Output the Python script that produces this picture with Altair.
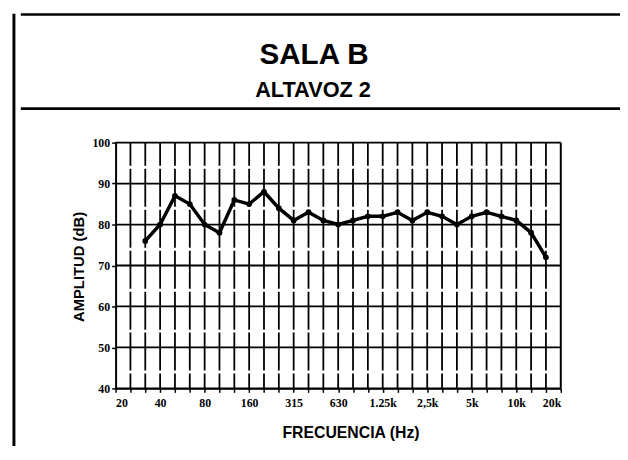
import altair as alt
import pandas as pd

# Third-octave bands from 20 Hz to 20 kHz (position on the x axis = index)
bandas = ["20", "25", "31.5", "40", "50", "63", "80", "100", "125", "160", "200",
          "250", "315", "400", "500", "630", "800", "1k", "1.25k", "1.6k", "2k",
          "2.5k", "3.15k", "4k", "5k", "6.3k", "8k", "10k", "12.5k", "16k", "20k"]

# Measured bands and amplitude (dB)
frecuencias = ["31.5", "40", "50", "63", "80", "100", "125", "160", "200", "250",
               "315", "400", "500", "630", "800", "1k", "1.25k", "1.6k", "2k",
               "2.5k", "3.15k", "4k", "5k", "6.3k", "8k", "10k", "12.5k", "16k"]
amplitud = [76, 80, 87, 85, 80, 78, 86, 85, 88, 84,
            81, 83, 81, 80, 81, 82, 82, 83, 81,
            83, 82, 80, 82, 83, 82, 81, 78, 72]

etiquetas_x = ["20", "40", "80", "160", "315", "630", "1.25k", "2,5k", "5k", "10k", "20k"]
valores_y = [40, 50, 60, 70, 80, 90, 100]

W, H = 451, 249

df = pd.DataFrame({
    "pos": [bandas.index(f) for f in frecuencias],
    "banda": frecuencias,
    "amp": amplitud,
})
grid_v = pd.DataFrame({"pos": list(range(len(bandas)))})
grid_v_inner = grid_v[(grid_v.pos > 0) & (grid_v.pos < len(bandas) - 1)]
grid_h = pd.DataFrame({"y": valores_y})
one = pd.DataFrame({"a": [0]})

lab_arr = "[" + ",".join("'%s'" % s for s in etiquetas_x) + "]"

xscale = alt.Scale(domain=[0, len(bandas) - 1], nice=False, zero=False)
yscale = alt.Scale(domain=[40, 100], nice=False, zero=False)

xaxis = alt.Axis(
    values=list(range(len(bandas))),
    labelExpr=f"datum.value % 3 == 0 ? {lab_arr}[datum.value / 3] : ''",
    title="FRECUENCIA (Hz)",
    grid=False, tickSize=4, tickWidth=1.5, tickColor="black",
    labelFont="Liberation Serif", labelFontWeight="bold", labelFontSize=12,
    labelColor="black", labelPadding=5, labelAngle=0,
    titleFont="Liberation Sans", titleFontWeight="bold", titleFontSize=16,
    titleColor="black", titleX=238, titleY=44.5, titleAlign="center",
    titleBaseline="middle",
    domainColor="black", domainWidth=2,
)
yaxis = alt.Axis(
    values=valores_y,
    title="AMPLITUD (dB)",
    grid=False, tickSize=4, tickWidth=1.5, tickColor="black",
    labelFont="Liberation Serif", labelFontWeight="bold", labelFontSize=12,
    labelColor="black", labelPadding=2,
    titleFont="Liberation Sans", titleFontWeight="bold", titleFontSize=15,
    titleColor="black", titleX=-38, titleY=125.5, titleAlign="center",
    titleBaseline="middle", titleAngle=270,
    domainColor="black", domainWidth=2,
)

vgrid = alt.Chart(grid_v_inner).mark_rule(
    color="black", strokeWidth=1.8, strokeDash=[38.5, 3], strokeDashOffset=15
).encode(x=alt.X("pos:Q", scale=xscale, axis=xaxis))

hgrid = alt.Chart(grid_h).mark_rule(color="black", strokeWidth=1.8).encode(
    y=alt.Y("y:Q", scale=yscale, axis=yaxis)
)

border_r = alt.Chart(grid_v[grid_v.pos == len(bandas) - 1]).mark_rule(
    color="black", strokeWidth=2).encode(x=alt.X("pos:Q", scale=xscale, axis=xaxis))

line = alt.Chart(df).mark_line(color="black", strokeWidth=3.5).encode(
    x=alt.X("pos:Q", scale=xscale, axis=xaxis),
    y=alt.Y("amp:Q", scale=yscale, axis=yaxis),
)
pts = alt.Chart(df).mark_circle(color="black", opacity=1, size=34).encode(
    x=alt.X("pos:Q", scale=xscale, axis=xaxis),
    y=alt.Y("amp:Q", scale=yscale, axis=yaxis),
)

# Page frame and header
frame_left = alt.Chart(one).mark_rule(color="black", strokeWidth=3).encode(
    x=alt.value(-103), y=alt.value(-130.5), y2=alt.value(320))
frame_top = alt.Chart(one).mark_rule(color="black", strokeWidth=2.7).encode(
    x=alt.value(-96), x2=alt.value(511), y=alt.value(-129.8))
frame_mid = alt.Chart(one).mark_rule(color="black", strokeWidth=2.7).encode(
    x=alt.value(-96), x2=alt.value(511), y=alt.value(-34.5))

title1 = alt.Chart(one).mark_text(
    text="SALA B", font="Liberation Sans", fontSize=30, fontWeight="bold",
    color="black", align="center", baseline="alphabetic"
).encode(x=alt.value(201), y=alt.value(-80))
title2 = alt.Chart(one).mark_text(
    text="ALTAVOZ 2", font="Liberation Sans", fontSize=22, fontWeight="bold",
    color="black", align="center", baseline="alphabetic"
).encode(x=alt.value(200), y=alt.value(-46.5))

chart = alt.layer(
    vgrid, hgrid, border_r, line, pts,
    frame_left, frame_top, frame_mid, title1, title2,
).properties(
    width=W, height=H,
    autosize=alt.AutoSizeParams(type="none"),
    padding={"left": 109, "top": 133.5, "right": 60, "bottom": 55},
    background="white",
).configure_view(stroke=None)

chart.save("out.html", embed_options={"renderer": "svg", "actions": False})
